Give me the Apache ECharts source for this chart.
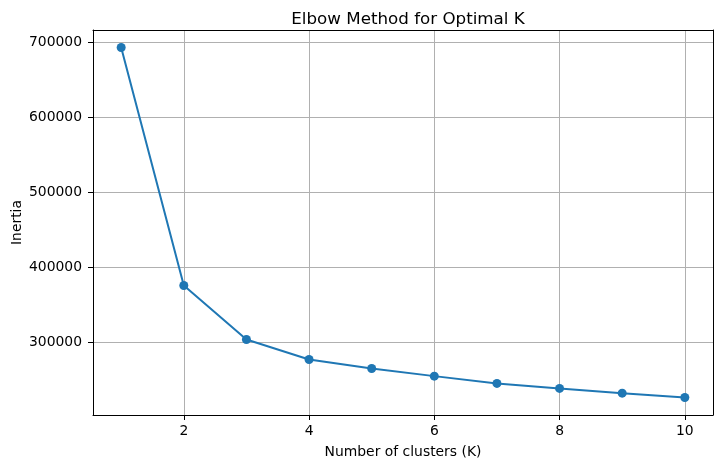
<!DOCTYPE html>
<html>
<head>
<meta charset="utf-8">
<script src="https://cdn.jsdelivr.net/npm/echarts@6.0.0/dist/echarts.min.js"></script>
<style>
  html, body { margin: 0; padding: 0; background: #fff; }
  #chart { width: 722px; height: 468px; }
</style>
</head>
<body>
<div id="chart"></div>
<script>
// data
var clusters = [1, 2, 3, 4, 5, 6, 7, 8, 9, 10];
var inertia = [692900, 375600, 303600, 276900, 264900, 254700, 245000, 238300, 232000, 226200];
var xTicks = [2, 4, 6, 8, 10];
var yTicks = [300000, 400000, 500000, 600000, 700000];

(function(){
    var myChart = echarts.init(document.getElementById("chart"));

    // matplotlib style 5% margins
    var xMin = Math.min.apply(null, clusters), xMax = Math.max.apply(null, clusters);
    var yMin = Math.min.apply(null, inertia), yMax = Math.max.apply(null, inertia);
    var xPad = (xMax - xMin) * 0.05, yPad = (yMax - yMin) * 0.05;

    var font = 'DejaVu Sans';
    var points = clusters.map(function(k, i){ return [k, inertia[i]]; });

    // top / right axes only draw the frame
    var frameAxis = {
        type: 'value',
        axisLine: { show: true, onZero: false, lineStyle: { color: '#000', width: 1 } },
        axisTick: { show: false },
        axisLabel: { show: false },
        splitLine: { show: false }
    };

    var option = {
        animation: false,
        textStyle: { fontFamily: font },
        title: {
            text: 'Elbow Method for Optimal K',
            left: 403,
            textAlign: 'center',
            top: 6,
            textStyle: { fontFamily: font, fontSize: 16.7, fontWeight: 'normal', color: '#000' }
        },
        grid: {
            left: 93, right: 9, top: 30, bottom: 53,
            containLabel: false,
            outerBoundsMode: 'none'
        },
        xAxis: [
            {
                type: 'value',
                position: 'bottom',
                min: xMin - xPad,
                max: xMax + xPad,
                name: 'Number of clusters (K)',
                nameLocation: 'middle',
                nameGap: 30,
                nameMoveOverlap: false,
                nameTextStyle: { fontFamily: font, fontSize: 13.9, color: '#000' },
                axisLine: { show: true, onZero: false, lineStyle: { color: '#000', width: 1 } },
                axisTick: { show: true, inside: false, length: 5, customValues: xTicks, lineStyle: { color: '#000', width: 1 } },
                axisLabel: {
                    customValues: xTicks, margin: 9, fontSize: 13.9, color: '#000', fontFamily: font,
                    formatter: function (v) { return String(v); }
                },
                splitLine: { show: true, customValues: xTicks, lineStyle: { color: '#b0b0b0', width: 1 } }
            },
            Object.assign({ position: 'top', min: xMin - xPad, max: xMax + xPad }, frameAxis)
        ],
        yAxis: [
            {
                type: 'value',
                position: 'left',
                min: yMin - yPad,
                max: yMax + yPad,
                name: 'Inertia',
                nameLocation: 'middle',
                nameGap: 69,
                nameMoveOverlap: false,
                nameTextStyle: { fontFamily: font, fontSize: 13.9, color: '#000' },
                axisLine: { show: true, onZero: false, lineStyle: { color: '#000', width: 1 } },
                axisTick: { show: true, inside: false, length: 5, customValues: yTicks, lineStyle: { color: '#000', width: 1 } },
                axisLabel: {
                    customValues: yTicks, margin: 11, fontSize: 13.9, color: '#000', fontFamily: font,
                    formatter: function (v) { return String(v); }
                },
                splitLine: { show: true, customValues: yTicks, lineStyle: { color: '#b0b0b0', width: 1 } }
            },
            Object.assign({ position: 'right', min: yMin - yPad, max: yMax + yPad }, frameAxis)
        ],
        series: [
            {
                type: 'line',
                xAxisIndex: 0,
                yAxisIndex: 0,
                data: points,
                symbol: 'circle',
                symbolSize: 9,
                showAllSymbol: true,
                itemStyle: { color: '#1f77b4' },
                lineStyle: { color: '#1f77b4', width: 2 }
            }
        ]
    };

    myChart.setOption(option);
})();
</script>
</body>
</html>
